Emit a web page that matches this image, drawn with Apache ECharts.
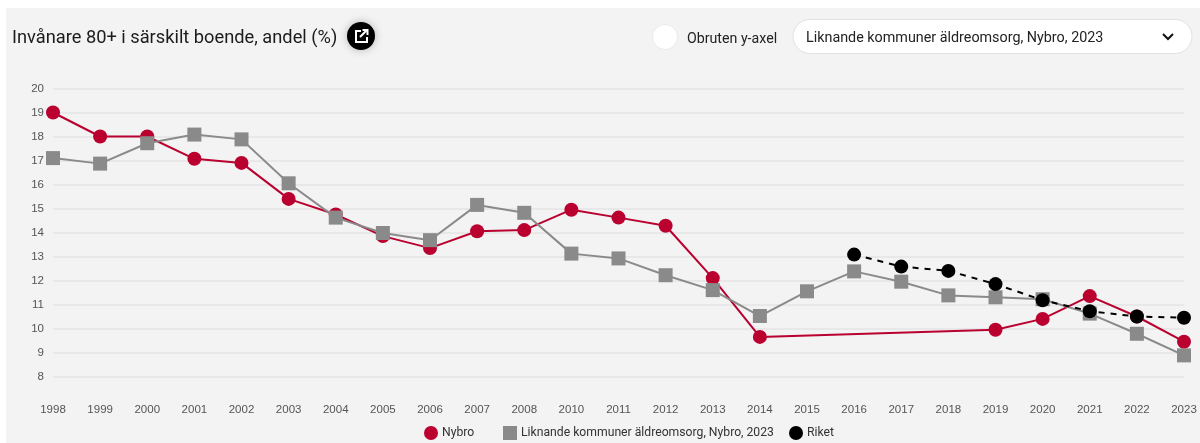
<!DOCTYPE html>
<html><head><meta charset="utf-8">
<style>html,body{margin:0;padding:0;background:#fff}#c{width:1200px;height:443px}</style>
<script src="https://cdn.jsdelivr.net/npm/echarts@6/dist/echarts.min.js"></script>
</head><body><div id="c"></div>
<script>
const years=['1998','1999','2000','2001','2002','2003','2004','2005','2006','2007','2008','2010','2011','2012','2013','2014','2015','2016','2017','2018','2019','2020','2021','2022','2023'];
const yTicks=[8,20];
const nybro=[19,18,18,17.07,16.9,15.4,14.75,13.85,13.35,14.05,14.1,14.95,14.62,14.28,12.1,9.65,null,null,null,null,9.95,10.4,11.35,10.5,9.45];
const liknande=[17.1,16.87,17.72,18.08,17.88,16.05,14.62,13.98,13.68,15.15,14.82,13.12,12.92,12.22,11.6,10.52,11.55,12.38,11.95,11.38,11.3,11.22,10.62,9.78,8.88];
const riket=[null,null,null,null,null,null,null,null,null,null,null,null,null,null,null,null,null,13.08,12.58,12.4,11.85,11.18,10.72,10.5,10.45];
const names=['Nybro','Liknande kommuner äldreomsorg, Nybro, 2023','Riket'];
const titleText='Invånare 80+ i särskilt boende, andel (%)';
const toggleText='Obruten y-axel';
const selectText='Liknande kommuner äldreomsorg, Nybro, 2023';
const RED='#b9002f',GRAY='#8a8a8a',BLACK='#000';
const legendBase={bottom:-2,itemWidth:14,itemHeight:14,selectedMode:false,
  textStyle:{fontFamily:'Roboto',fontSize:12.2,color:'#333',padding:[0,0,0,-1]}};
const chart=echarts.init(document.getElementById('c'),null,{renderer:'canvas'});
chart.setOption({
  animation:false,
  backgroundColor:'#fff',
  grid:{left:53,right:16,top:88.5,height:288,containLabel:false},
  legend:[
    Object.assign({},legendBase,{left:419,data:[{name:names[0],icon:'circle'}]}),
    Object.assign({},legendBase,{left:498,data:[{name:names[1],icon:'rect'}]}),
    Object.assign({},legendBase,{left:784,data:[{name:names[2],icon:'circle'}]})
  ],
  xAxis:{type:'category',data:years,boundaryGap:false,
    axisLine:{show:false},axisTick:{show:false},splitLine:{show:false},
    axisLabel:{interval:0,margin:27,fontFamily:'Liberation Sans',fontSize:11.5,color:'#555'}},
  yAxis:{type:'value',min:yTicks[0],max:yTicks[1],interval:1,
    axisLine:{show:false},axisTick:{show:false},
    splitLine:{lineStyle:{color:'#e8e8e8',width:2}},
    axisLabel:{margin:9,fontFamily:'Liberation Sans',fontSize:11.5,color:'#555'}},
  series:[
    {name:names[0],type:'line',data:nybro,connectNulls:true,symbol:'circle',symbolSize:14,clip:false,
      lineStyle:{color:RED,width:2},itemStyle:{color:RED},z:2},
    {name:names[1],type:'line',data:liknande,symbol:'rect',symbolSize:14,clip:false,
      lineStyle:{color:GRAY,width:2},itemStyle:{color:GRAY},z:3},
    {name:names[2],type:'line',data:riket,symbol:'circle',symbolSize:14,clip:false,
      lineStyle:{color:BLACK,width:2,type:[6,6]},itemStyle:{color:BLACK},z:4}
  ],
  graphic:[
    {type:'rect',z:-10,silent:true,shape:{x:6,y:8,width:1194,height:435},style:{fill:'#f3f3f3'}},
    {type:'text',z:10,x:12,y:38,style:{text:titleText,fontFamily:'Roboto',fontSize:18.25,fill:'#1c1c1c',textVerticalAlign:'middle'}},
    {type:'circle',z:10,shape:{cx:361,cy:36,r:14},style:{fill:'#000',shadowBlur:8,shadowColor:'rgba(0,0,0,0.25)'}},
    {type:'polyline',z:11,shape:{points:[[361,31],[356,31],[356,42],[367,42],[367,37]]},style:{fill:null,stroke:'#fff',lineWidth:2}},
    {type:'polyline',z:11,shape:{points:[[360,37],[367,30]]},style:{fill:null,stroke:'#fff',lineWidth:2}},
    {type:'polyline',z:11,shape:{points:[[362.5,30],[367.5,30],[367.5,35]]},style:{fill:null,stroke:'#fff',lineWidth:2}},
    {type:'circle',z:10,shape:{cx:665,cy:37,r:12.5},style:{fill:'#fff',stroke:'#ebebeb',lineWidth:1}},
    {type:'text',z:10,x:687,y:39,style:{text:toggleText,fontFamily:'Roboto',fontSize:14.2,fill:'#222',textVerticalAlign:'middle'}},
    {type:'rect',z:10,shape:{x:793,y:19.5,width:399,height:34,r:17},style:{fill:'#fff',stroke:'#e2e2e2',lineWidth:1}},
    {type:'text',z:11,x:806,y:38,style:{text:selectText,fontFamily:'Roboto',fontSize:14.33,fill:'#222',textVerticalAlign:'middle'}},
    {type:'polyline',z:11,shape:{points:[[1163,34],[1168,39],[1173,34]]},style:{fill:null,stroke:'#111',lineWidth:2}}
  ]
});
</script></body></html>
